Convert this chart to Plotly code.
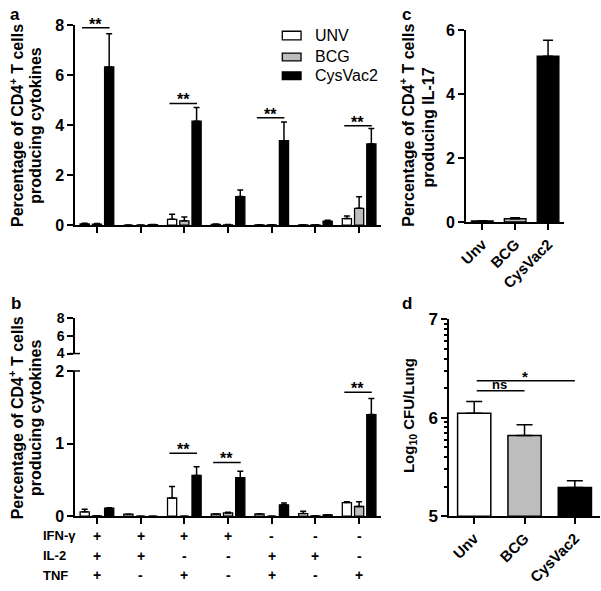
import plotly.graph_objects as go

W, H = 601, 591
def X(px): return px / W
def Y(py): return 1 - py / H

FONT = "Liberation Sans, Arial, sans-serif"

# ---------------- data ----------------
groups = ["IFN+IL2+TNF+", "IFN+IL2+TNF-", "IFN+IL2-TNF+", "IFN+IL2-TNF-",
          "IFN-IL2+TNF+", "IFN-IL2+TNF-", "IFN-IL2-TNF+"]
series_names = ["UNV", "BCG", "CysVac2"]
series_colors = ["white", "#bdbdbd", "black"]

# panel a
unv_a = [0.05, 0.00, 0.23, 0.03, 0.01, 0.01, 0.26]
unv_a_err = [0.02, 0.0, 0.20, 0.01, 0.0, 0.0, 0.10]
bcg_a = [0.04, 0.00, 0.17, 0.01, 0.01, 0.01, 0.67]
bcg_a_err = [0.02, 0.0, 0.15, 0.01, 0.0, 0.0, 0.46]
cys_a = [6.33, 0.02, 4.16, 1.14, 3.38, 0.16, 3.25]
cys_a_err = [1.33, 0.0, 0.55, 0.27, 0.75, 0.03, 0.62]
sig_a_groups = [0, 2, 4, 6]
sig_a_heights = [7.9, 4.87, 4.30, 3.98]

# panel b
unv_b = [0.06, 0.027, 0.25, 0.03, 0.03, 0.036, 0.187]
unv_b_err = [0.036, 0.0, 0.16, 0.0, 0.0, 0.03, 0.013]
bcg_b = [0.005, 0.0, 0.0, 0.044, 0.0, 0.005, 0.133]
bcg_b_err = [0.0, 0.0, 0.0, 0.01, 0.0, 0.0, 0.067]
cys_b = [0.11, 0.0, 0.56, 0.53, 0.156, 0.018, 1.40]
cys_b_err = [0.005, 0.0, 0.12, 0.09, 0.024, 0.0, 0.22]
sig_b_groups = [2, 3, 6]
sig_b_heights = [0.867, 0.74, 1.707]

row_labels = ["IFN-γ", "IL-2", "TNF"]
ifn_row = ["+", "+", "+", "+", "-", "-", "-"]
il2_row = ["+", "+", "-", "-", "+", "+", "-"]
tnf_row = ["+", "-", "+", "-", "+", "-", "+"]

# panel c
cd_categories = ["Unv", "BCG", "CysVac2"]
il17_vals = [0.03, 0.10, 5.18]
il17_err = [0.01, 0.03, 0.50]

# panel d (log10 CFU/lung)
cfu_vals = [6.045, 5.82, 5.29]
cfu_err = [0.12, 0.11, 0.07]
cfu_sig = [("ns", 0, 1, 6.275), ("*", 0, 2, 6.377)]
cfu_base = 5

# ---------------- figure ----------------
fig = go.Figure()

bar_w = 0.21
offsets = [-0.28, 0.0, 0.28]

def add_group(xa, ya, vals_list, errs_list):
    for i, (vals, errs) in enumerate(zip(vals_list, errs_list)):
        fig.add_trace(go.Bar(
            x=list(range(len(groups))), y=vals, xaxis=xa, yaxis=ya,
            width=bar_w, offset=offsets[i] - bar_w / 2,
            marker=dict(color=series_colors[i], line=dict(color="black", width=1.3)),
            error_y=dict(type="data", symmetric=False, array=errs, arrayminus=[0] * len(errs),
                         color="black", thickness=1.5, width=3),
            name=series_names[i], showlegend=False, hoverinfo="skip"))

add_group("x", "y", [unv_a, bcg_a, cys_a], [unv_a_err, bcg_a_err, cys_a_err])
add_group("x2", "y2", [unv_b, bcg_b, cys_b], [unv_b_err, bcg_b_err, cys_b_err])
# empty trace to make upper broken-axis segment exist
fig.add_trace(go.Scatter(x=[None], y=[None], xaxis="x2", yaxis="y3", showlegend=False))

fig.add_trace(go.Bar(
    x=cd_categories, y=il17_vals, xaxis="x3", yaxis="y4", width=0.66,
    marker=dict(color=series_colors, line=dict(color="black", width=1.3)),
    error_y=dict(type="data", symmetric=False, array=il17_err, arrayminus=[0] * 3,
                 color="black", thickness=1.5, width=5),
    showlegend=False, hoverinfo="skip"))

fig.add_trace(go.Bar(
    x=cd_categories, y=[v - cfu_base for v in cfu_vals], base=cfu_base,
    xaxis="x4", yaxis="y5", width=0.66,
    marker=dict(color=series_colors, line=dict(color="black", width=1.5)),
    error_y=dict(type="data", symmetric=False, array=cfu_err, arrayminus=[0] * 3,
                 color="black", thickness=1.5, width=8),
    showlegend=False, hoverinfo="skip"))

axis_common = dict(showline=True, linecolor="black", linewidth=1.5, ticks="outside",
                   ticklen=6, tickwidth=1.5, tickcolor="black", showgrid=False,
                   zeroline=False, tickfont=dict(family=FONT, size=16, color="black", weight="bold"))

minor_log = [5.30103, 5.47712, 5.60206, 5.69897, 5.77815, 5.84510, 5.90309, 5.95424,
             6.30103, 6.47712, 6.60206, 6.69897, 6.77815, 6.84510, 6.90309, 6.95424]

fig.update_layout(
    width=W, height=H, margin=dict(l=0, r=0, t=0, b=0),
    paper_bgcolor="white", plot_bgcolor="white", barmode="overlay",
    font=dict(family=FONT, color="black"),
    xaxis=dict(domain=[X(68), X(378)], range=[-0.5, 6.5], anchor="y",
               tickvals=list(range(7)), showticklabels=False, **axis_common),
    yaxis=dict(domain=[Y(223.3), Y(16.7)], range=[0, 8], tickvals=[0, 2, 4, 6, 8],
               anchor="x", **axis_common),
    xaxis2=dict(domain=[X(68), X(378)], range=[-0.5, 6.5], anchor="y2",
                tickvals=list(range(7)), showticklabels=False, **axis_common),
    yaxis2=dict(domain=[Y(524), Y(374)], range=[0, 2], tickvals=[0, 1, 2],
                anchor="x2", **axis_common),
    yaxis3=dict(domain=[Y(356), Y(319)], range=[4, 8], tickvals=[4, 6, 8],
                anchor="x2", **axis_common),
    xaxis3=dict(domain=[X(464), X(564)], range=[-0.5, 2.5], anchor="y4",
                tickangle=-45, **axis_common),
    yaxis4=dict(domain=[Y(220), Y(21.7)], range=[0, 6], tickvals=[0, 2, 4, 6],
                anchor="x3", **axis_common),
    xaxis4=dict(domain=[X(447), X(600)], range=[-0.5, 2.5], anchor="y5",
                tickangle=-45, **axis_common),
    yaxis5=dict(domain=[Y(524), Y(320.7)], range=[5, 7], tickvals=[5, 6, 7], anchor="x4",
                minor=dict(tickmode="array", tickvals=minor_log,
                           ticks="outside", ticklen=3, tickwidth=1.5, tickcolor="black"),
                **axis_common),
)
fig.update_layout(xaxis3_tickfont_size=15, xaxis4_tickfont_size=15,
                  yaxis3_tickfont_size=14, yaxis5_tickfont_size=17)

shapes = []
annotations = []
bold = dict(family=FONT, color="black", weight="bold")

# significance brackets panel a
for g, h in zip(sig_a_groups, sig_a_heights):
    shapes.append(dict(type="line", xref="x", yref="y", x0=g - 0.34, x1=g + 0.29, y0=h, y1=h,
                       line=dict(color="black", width=1.5)))
    annotations.append(dict(xref="x", yref="y", x=g - 0.03, y=h, text="**", showarrow=False,
                            yanchor="bottom", yshift=-7, font=dict(size=16, **bold)))
# panel b brackets
for g, h in zip(sig_b_groups, sig_b_heights):
    shapes.append(dict(type="line", xref="x2", yref="y2", x0=g - 0.34, x1=g + 0.29, y0=h, y1=h,
                       line=dict(color="black", width=1.5)))
    annotations.append(dict(xref="x2", yref="y2", x=g - 0.03, y=h, text="**", showarrow=False,
                            yanchor="bottom", yshift=-7, font=dict(size=16, **bold)))
# panel d brackets
for txt, i0, i1, h in cfu_sig:
    shapes.append(dict(type="line", xref="x4", yref="y5", x0=i0 + 0.05, x1=i1, y0=h, y1=h,
                       line=dict(color="black", width=1.5)))
    annotations.append(dict(xref="x4", yref="y5", x=(i0 + i1) / 2, y=h, text=txt, showarrow=False,
                            yanchor="bottom", yshift=-3 if txt == "ns" else -6,
                            font=dict(size=13 if txt == "ns" else 15, **bold)))

# broken axis cross marks
for py in (356, 374):
    shapes.append(dict(type="line", xref="paper", yref="paper", x0=X(62), x1=X(73),
                       y0=Y(py), y1=Y(py), line=dict(color="black", width=1.5)))

# legend (manual)
leg_y = [(23, 32), (45.5, 53.5), (65, 73)]
for i, (y0, y1) in enumerate(leg_y):
    shapes.append(dict(type="rect", xref="paper", yref="paper", x0=X(278), x1=X(297),
                       y0=Y(y1), y1=Y(y0), fillcolor=series_colors[i],
                       line=dict(color="black", width=1.3)))
    annotations.append(dict(xref="paper", yref="paper", x=X(309), y=Y((y0 + y1) / 2),
                            xanchor="left", yanchor="middle", text=series_names[i], showarrow=False,
                            font=dict(family=FONT, size=16, color="black")))

# combination table under panel b
rows = [ifn_row, il2_row, tnf_row]
row_y = [544, 565, 585]
for lbl, row, py in zip(row_labels, rows, row_y):
    annotations.append(dict(xref="paper", yref="paper", x=X(33), y=Y(py), xanchor="left",
                            yanchor="middle", text=lbl, showarrow=False, font=dict(size=13, **bold)))
    for gi, s in enumerate(row):
        annotations.append(dict(xref="x2", yref="paper", x=gi, y=Y(py), xanchor="center",
                                yanchor="middle", text=s, showarrow=False, font=dict(size=14, **bold)))

# axis titles
def vtitle(px, py, text, size=16):
    annotations.append(dict(xref="paper", yref="paper", x=X(px), y=Y(py), text=text, textangle=-90,
                            xanchor="center", yanchor="middle", showarrow=False,
                            font=dict(size=size, **bold)))

dx = -1
vtitle(10 + dx, 120, "Percentage of CD4<sup>+</sup> T cells")
vtitle(29 + dx, 120, "producing cytokines")
vtitle(10 + dx, 422, "Percentage of CD4<sup>+</sup> T cells")
vtitle(29 + dx, 422, "producing cytokines")
vtitle(406 + dx, 120, "Percentage of CD4<sup>+</sup> T cells")
vtitle(427 + dx, 122, "producing IL-17")
vtitle(408 + dx, 420, "Log<sub>10</sub> CFU/Lung", size=15)

# panel letters
for lbl, px, py in [("a", 0, -6), ("b", 1, 292), ("c", 397, -6), ("d", 397, 292)]:
    annotations.append(dict(xref="paper", yref="paper", x=X(px), y=Y(py), xanchor="left",
                            yanchor="top", text=lbl, showarrow=False, font=dict(size=17, **bold)))

fig.update_layout(shapes=shapes, annotations=annotations)
fig.write_html("out.html", config={"displayModeBar": False},
               post_script="document.body.style.margin='0';document.body.style.padding='0';")
